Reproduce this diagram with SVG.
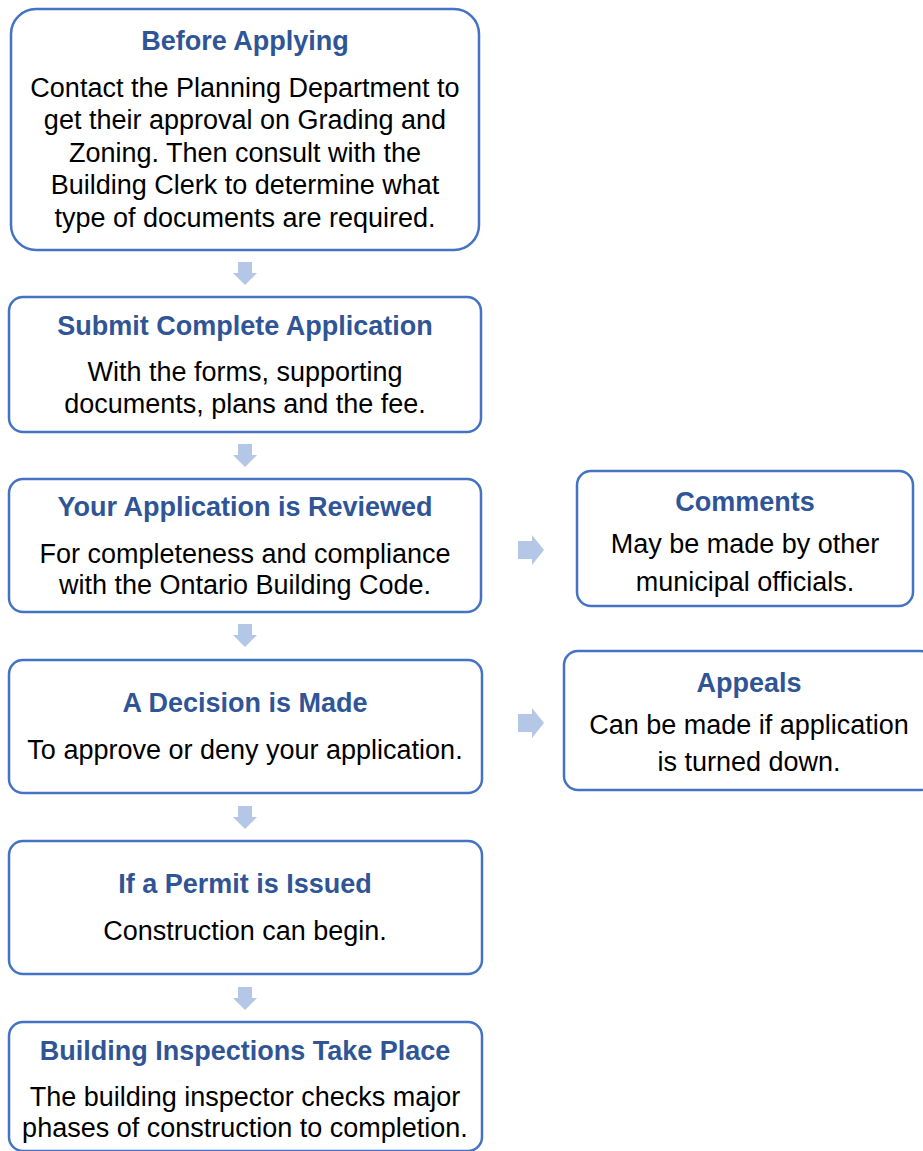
<svg xmlns="http://www.w3.org/2000/svg" width="923" height="1151" viewBox="0 0 923 1151">
  <style>
    .box { fill: #ffffff; stroke: #4472c4; stroke-width: 2.5; }
    .title { font-family: "Liberation Sans", Arial, sans-serif; font-weight: bold; font-size: 27px; fill: #2f5597; text-anchor: middle; }
    .body { font-family: "Liberation Sans", Arial, sans-serif; font-size: 27px; fill: #000000; text-anchor: middle; }
    .arrow { fill: #b4c7e7; }
  </style>
  <defs>
    <path id="down" d="M-7,0 H7 V11 H12 L0,23 L-12,11 H-7 Z"/>
    <path id="right" d="M0,-9 H14 V-15 L26,0 L14,15 V9 H0 Z"/>
  </defs>
  <rect width="923" height="1151" fill="#ffffff"/>

  <g id="connectors">
    <use href="#down" class="arrow" x="245" y="262"/>
    <use href="#down" class="arrow" x="245" y="444"/>
    <use href="#down" class="arrow" x="245" y="624"/>
    <use href="#down" class="arrow" x="245" y="806"/>
    <use href="#down" class="arrow" x="245" y="987"/>
    <use href="#right" class="arrow" x="518" y="550"/>
    <use href="#right" class="arrow" x="518" y="723"/>
  </g>

  <g id="before-applying">
    <rect class="box" x="11" y="9" width="468" height="241" rx="25"/>
    <text class="title" x="245" y="50">Before Applying</text>
    <text class="body" x="245" y="97">Contact the Planning Department to</text>
    <text class="body" x="245" y="129">get their approval on Grading and</text>
    <text class="body" x="245" y="162">Zoning. Then consult with the</text>
    <text class="body" x="245" y="194">Building Clerk to determine what</text>
    <text class="body" x="245" y="227">type of documents are required.</text>
  </g>

  <g id="submit-application">
    <rect class="box" x="9" y="297" width="472" height="135" rx="14"/>
    <text class="title" x="245" y="335">Submit Complete Application</text>
    <text class="body" x="245" y="381">With the forms, supporting</text>
    <text class="body" x="245" y="413">documents, plans and the fee.</text>
  </g>

  <g id="application-reviewed">
    <rect class="box" x="9" y="479" width="472" height="133" rx="14"/>
    <text class="title" x="245" y="516">Your Application is Reviewed</text>
    <text class="body" x="245" y="563">For completeness and compliance</text>
    <text class="body" x="245" y="594">with the Ontario Building Code.</text>
  </g>

  <g id="comments">
    <rect class="box" x="577" y="471" width="336" height="135" rx="14"/>
    <text class="title" x="745" y="511">Comments</text>
    <text class="body" x="745" y="553">May be made by other</text>
    <text class="body" x="745" y="591">municipal officials.</text>
  </g>

  <g id="decision">
    <rect class="box" x="9" y="660" width="473" height="133" rx="14"/>
    <text class="title" x="245" y="712">A Decision is Made</text>
    <text class="body" x="245" y="759">To approve or deny your application.</text>
  </g>

  <g id="appeals">
    <rect class="box" x="564" y="651" width="370" height="139" rx="14"/>
    <text class="title" x="749" y="692">Appeals</text>
    <text class="body" x="749" y="734">Can be made if application</text>
    <text class="body" x="749" y="771">is turned down.</text>
  </g>

  <g id="permit-issued">
    <rect class="box" x="9" y="841" width="473" height="133" rx="14"/>
    <text class="title" x="245" y="893">If a Permit is Issued</text>
    <text class="body" x="245" y="940">Construction can begin.</text>
  </g>

  <g id="inspections">
    <rect class="box" x="9" y="1022" width="473" height="129" rx="14"/>
    <text class="title" x="245" y="1060">Building Inspections Take Place</text>
    <text class="body" x="245" y="1106">The building inspector checks major</text>
    <text class="body" x="245" y="1137">phases of construction to completion.</text>
  </g>
</svg>
